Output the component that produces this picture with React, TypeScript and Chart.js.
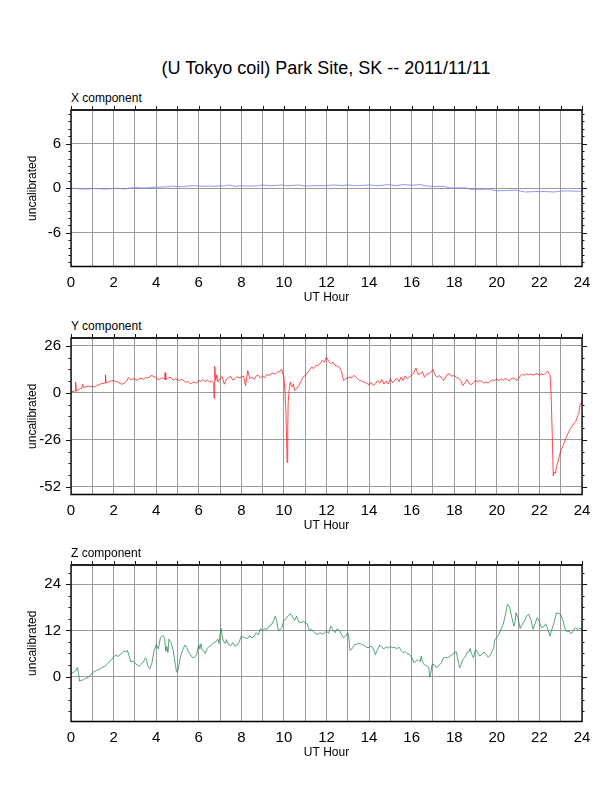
import { useEffect, useRef } from "react"
import { Chart, registerables } from "chart.js"

Chart.register(...registerables)

const FONT = "'Liberation Sans', Arial, Helvetica, sans-serif"

const TITLE = "(U Tokyo coil) Park Site, SK -- 2011/11/11"
const X_LABEL = "UT Hour"
const Y_LABEL = "uncalibrated"
const HOUR_TICKS = { min: 0, max: 24, step: 1, labelEvery: 2 }

// [UT hour, value]
const X_SERIES: [number, number][] = [
  [0, 0.0], [0.3, -0.05], [0.5, -0.1], [0.8, -0.1], [1, -0.05], [1.3, -0.05], [1.5, -0.12],
  [1.8, -0.08], [2, 0.0], [2.2, 0.0], [2.5, -0.1], [2.7, 0.0], [3, 0.1], [3.3, 0.05],
  [3.5, 0.05], [3.8, 0.1], [4, 0.15], [4.3, 0.15], [4.5, 0.2], [4.8, 0.3], [5, 0.2],
  [5.3, 0.22], [5.5, 0.3], [5.8, 0.35], [6, 0.3], [6.3, 0.25], [6.5, 0.3], [6.8, 0.25],
  [7, 0.35], [7.2, 0.3], [7.4, 0.45], [7.7, 0.25], [8, 0.35], [8.3, 0.3], [8.5, 0.3],
  [8.8, 0.35], [9, 0.45], [9.3, 0.35], [9.5, 0.35], [9.9, 0.45], [10.1, 0.35], [10.3, 0.35],
  [10.7, 0.45], [11, 0.3], [11.3, 0.35], [11.5, 0.35], [12, 0.35], [12.3, 0.45], [12.7, 0.35],
  [13, 0.45], [13.3, 0.35], [13.5, 0.35], [14, 0.45], [14.3, 0.35], [14.5, 0.35], [14.9, 0.5],
  [15.3, 0.35], [15.6, 0.5], [16, 0.4], [16.4, 0.5], [16.7, 0.3], [17, 0.25], [17.5, 0.25],
  [17.8, 0.05], [18.2, 0.05], [18.5, 0.05], [18.8, -0.15], [19.2, -0.15], [19.6, -0.1],
  [20, -0.35], [20.5, -0.3], [20.8, -0.25], [21, -0.3], [21.3, -0.5], [21.8, -0.45],
  [22.3, -0.45], [22.7, -0.5], [23, -0.4], [23.3, -0.35], [23.7, -0.4], [24, -0.4],
]

const Y_SERIES: [number, number][] = [
  [0, 0.5], [0.1, 0.8], [0.2, 1.0], [0.22, 6.0], [0.25, 1.2], [0.3, 1.4], [0.4, 2.0],
  [0.5, 2.6], [0.55, 4.8], [0.6, 3.0], [0.7, 3.4], [0.8, 3.8], [0.9, 3.5], [1.0, 3.7],
  [1.1, 3.2], [1.2, 4.0], [1.3, 4.4], [1.4, 5.0], [1.5, 5.2], [1.6, 5.4], [1.62, 10.0],
  [1.65, 5.6], [1.7, 5.8], [1.8, 6.3], [1.9, 6.6], [2.0, 6.7], [2.1, 6.4], [2.2, 6.0],
  [2.3, 5.2], [2.4, 4.8], [2.5, 5.4], [2.6, 6.3], [2.7, 8.5], [2.8, 7.2], [2.9, 7.8],
  [3.0, 7.4], [3.1, 7.0], [3.2, 7.8], [3.3, 8.0], [3.4, 7.6], [3.5, 8.5], [3.6, 8.2],
  [3.7, 9.0], [3.8, 9.7], [3.9, 8.8], [4.0, 8.7], [4.1, 7.2], [4.2, 7.8], [4.3, 8.4],
  [4.4, 7.6], [4.42, 11.2], [4.45, 7.4], [4.5, 7.4], [4.6, 8.6], [4.7, 8.5], [4.8, 7.0],
  [4.9, 7.8], [5.0, 7.4], [5.1, 6.8], [5.2, 7.6], [5.3, 6.7], [5.4, 5.8], [5.5, 6.4],
  [5.6, 5.0], [5.7, 5.6], [5.8, 6.0], [5.9, 5.4], [6.0, 6.9], [6.1, 6.5], [6.2, 7.4],
  [6.3, 6.2], [6.4, 7.0], [6.5, 6.0], [6.6, 6.6], [6.7, 5.6], [6.72, -3.0], [6.74, 8.0],
  [6.76, 14.8], [6.8, 7.0], [6.85, 10.0], [6.9, 6.0], [7.0, 7.8], [7.1, 9.0], [7.2, 4.8],
  [7.3, 7.6], [7.4, 8.5], [7.5, 9.2], [7.6, 7.2], [7.7, 7.8], [7.8, 9.0], [7.9, 8.2],
  [8.0, 8.7], [8.1, 9.4], [8.2, 4.1], [8.3, 12.3], [8.4, 8.0], [8.5, 8.7], [8.6, 7.5],
  [8.7, 9.4], [8.8, 9.7], [8.9, 8.2], [9.0, 9.3], [9.1, 8.4], [9.2, 10.2], [9.3, 9.7],
  [9.4, 10.6], [9.5, 11.1], [9.6, 10.4], [9.7, 11.5], [9.8, 11.9], [9.9, 13.0], [9.95, 10.5],
  [10.0, 8.7], [10.05, 0.4], [10.1, -12.6], [10.15, -38.6], [10.18, -20.0], [10.2, -5.2],
  [10.25, 2.0], [10.3, 6.0], [10.35, 4.0], [10.4, 3.2], [10.45, 5.0], [10.5, 1.3],
  [10.6, 2.5], [10.7, 4.0], [10.8, 6.5], [10.9, 8.7], [11.0, 9.7], [11.1, 11.0], [11.2, 12.4],
  [11.3, 14.3], [11.4, 13.5], [11.5, 15.2], [11.6, 15.2], [11.7, 16.2], [11.8, 18.0],
  [11.9, 17.0], [12.0, 19.9], [12.1, 17.5], [12.2, 16.2], [12.3, 17.0], [12.4, 15.2],
  [12.5, 14.8], [12.6, 14.3], [12.7, 12.0], [12.8, 6.9], [12.9, 7.8], [13.0, 8.2],
  [13.1, 8.8], [13.2, 8.4], [13.3, 9.7], [13.4, 8.6], [13.5, 7.4], [13.6, 6.8], [13.7, 6.2],
  [13.8, 6.0], [13.9, 5.2], [14.0, 4.5], [14.1, 5.8], [14.2, 4.2], [14.3, 5.0], [14.4, 6.8],
  [14.5, 5.4], [14.6, 7.4], [14.7, 4.8], [14.8, 6.6], [14.9, 5.0], [15.0, 7.8], [15.1, 5.6],
  [15.2, 6.9], [15.3, 8.2], [15.4, 6.2], [15.5, 8.7], [15.6, 6.8], [15.7, 9.4], [15.8, 7.8],
  [15.9, 9.0], [16.0, 9.7], [16.1, 11.0], [16.2, 13.7], [16.3, 10.2], [16.4, 10.6],
  [16.5, 11.8], [16.6, 8.7], [16.7, 10.4], [16.8, 10.6], [16.9, 11.4], [17.0, 13.0],
  [17.1, 9.8], [17.2, 8.7], [17.3, 9.6], [17.4, 8.2], [17.5, 6.9], [17.6, 8.8], [17.7, 10.6],
  [17.8, 10.2], [17.9, 9.2], [18.0, 9.7], [18.1, 8.6], [18.2, 8.2], [18.3, 7.0], [18.4, 4.1],
  [18.5, 5.6], [18.6, 7.4], [18.7, 5.2], [18.8, 4.5], [18.9, 5.8], [19.0, 6.9], [19.1, 6.2],
  [19.2, 6.8], [19.3, 6.3], [19.4, 5.4], [19.5, 6.0], [19.6, 5.6], [19.7, 6.4], [19.8, 7.2],
  [19.9, 6.9], [20.0, 7.6], [20.1, 6.8], [20.2, 7.8], [20.3, 7.0], [20.4, 8.0], [20.5, 7.4],
  [20.6, 6.6], [20.7, 8.2], [20.8, 8.2], [20.9, 7.0], [21.0, 7.4], [21.1, 9.4], [21.2, 10.2],
  [21.3, 9.8], [21.4, 10.6], [21.5, 10.0], [21.6, 10.4], [21.7, 9.8], [21.8, 10.4],
  [21.9, 10.8], [22.0, 9.7], [22.1, 10.6], [22.2, 10.0], [22.3, 11.2], [22.4, 11.9],
  [22.45, 10.6], [22.5, 10.0], [22.55, -1.5], [22.6, -21.9], [22.65, -46.0], [22.7, -43.8],
  [22.75, -44.5], [22.8, -41.4], [22.9, -36.8], [23.0, -32.1], [23.1, -29.5], [23.2, -26.6],
  [23.3, -23.5], [23.4, -21.0], [23.5, -19.0], [23.6, -17.3], [23.7, -16.0], [23.8, -12.6],
  [23.85, -11.5], [23.9, -7.0], [24.0, -4.8],
]

const Z_SERIES: [number, number][] = [
  [0, 0.7], [0.1, 1.0], [0.2, 1.4], [0.3, 2.3], [0.35, 1.0], [0.4, -1.2], [0.5, -1.0],
  [0.6, -0.8], [0.7, -0.4], [0.8, -0.3], [0.9, 0.3], [1.0, 1.0], [1.1, 1.3], [1.2, 1.6],
  [1.3, 1.8], [1.4, 2.1], [1.5, 2.5], [1.6, 2.7], [1.7, 3.2], [1.8, 3.8], [1.9, 4.4],
  [2.0, 5.0], [2.1, 5.6], [2.2, 5.2], [2.3, 5.6], [2.4, 6.2], [2.5, 6.6], [2.6, 6.4],
  [2.65, 6.8], [2.75, 5.0], [2.8, 3.8], [2.9, 4.0], [3.0, 3.6], [3.1, 3.0], [3.2, 2.7],
  [3.3, 3.2], [3.4, 3.8], [3.5, 4.9], [3.55, 4.4], [3.6, 2.8], [3.7, 2.0], [3.8, 3.5],
  [3.9, 6.6], [4.0, 8.3], [4.1, 7.2], [4.2, 10.1], [4.3, 10.6], [4.35, 10.5], [4.4, 9.8],
  [4.45, 6.6], [4.5, 7.8], [4.55, 6.2], [4.6, 9.7], [4.7, 8.8], [4.75, 7.9], [4.8, 6.8],
  [4.9, 3.1], [4.95, 1.5], [5.0, 1.0], [5.05, 2.5], [5.15, 5.3], [5.25, 7.0], [5.35, 8.2],
  [5.45, 7.4], [5.5, 6.6], [5.6, 5.8], [5.7, 4.9], [5.8, 5.0], [5.9, 5.7], [6.0, 8.3],
  [6.05, 7.2], [6.1, 8.5], [6.15, 7.0], [6.25, 6.5], [6.3, 6.0], [6.4, 7.3], [6.5, 7.9],
  [6.6, 8.2], [6.7, 8.8], [6.8, 9.0], [6.9, 9.7], [6.95, 8.6], [7.0, 10.8], [7.05, 12.5],
  [7.1, 10.6], [7.15, 9.2], [7.25, 8.6], [7.3, 9.6], [7.4, 8.3], [7.5, 8.0], [7.6, 8.8],
  [7.7, 7.9], [7.8, 8.2], [7.9, 9.0], [8.0, 10.5], [8.1, 10.2], [8.2, 10.0], [8.3, 9.9],
  [8.4, 10.6], [8.5, 10.0], [8.6, 10.5], [8.7, 11.4], [8.8, 10.8], [8.9, 12.5], [9.0, 11.8],
  [9.1, 12.5], [9.2, 12.2], [9.3, 13.1], [9.4, 13.4], [9.5, 14.3], [9.6, 15.7], [9.65, 14.8],
  [9.7, 13.0], [9.75, 12.0], [9.8, 12.1], [9.9, 12.7], [10.0, 14.6], [10.1, 15.0],
  [10.2, 15.8], [10.3, 16.3], [10.4, 15.5], [10.5, 14.6], [10.6, 15.7], [10.7, 14.2],
  [10.8, 14.0], [10.9, 14.3], [11.0, 14.0], [11.1, 13.6], [11.2, 12.0], [11.3, 12.3],
  [11.4, 11.6], [11.5, 11.1], [11.6, 11.0], [11.7, 11.4], [11.8, 11.0], [11.9, 11.3],
  [12.0, 11.8], [12.1, 11.2], [12.2, 13.1], [12.3, 12.2], [12.4, 11.4], [12.5, 12.4],
  [12.6, 12.0], [12.7, 11.0], [12.8, 10.1], [12.9, 10.6], [13.0, 11.4], [13.05, 10.2],
  [13.1, 6.8], [13.2, 7.2], [13.3, 8.2], [13.4, 8.4], [13.5, 8.6], [13.6, 8.5], [13.7, 8.2],
  [13.8, 8.0], [13.9, 7.5], [14.0, 7.6], [14.1, 7.9], [14.2, 7.2], [14.3, 5.7], [14.4, 7.0],
  [14.5, 8.2], [14.6, 7.6], [14.7, 7.2], [14.8, 7.7], [14.9, 7.4], [15.0, 7.8], [15.1, 7.5],
  [15.2, 7.6], [15.3, 7.2], [15.4, 7.7], [15.5, 6.8], [15.6, 6.2], [15.7, 6.5], [15.8, 5.9],
  [15.9, 5.7], [16.0, 5.0], [16.1, 3.6], [16.2, 4.0], [16.3, 4.4], [16.4, 3.8], [16.45, 5.3],
  [16.5, 4.0], [16.6, 3.0], [16.7, 2.8], [16.8, 2.4], [16.85, -0.2], [16.9, 0.8],
  [16.95, 3.0], [17.0, 3.3], [17.1, 2.6], [17.2, 2.4], [17.3, 3.0], [17.4, 3.6], [17.5, 4.9],
  [17.6, 5.0], [17.7, 4.8], [17.8, 5.3], [17.9, 5.6], [18.0, 6.2], [18.1, 6.4], [18.15, 5.0],
  [18.25, 2.3], [18.3, 2.8], [18.4, 4.4], [18.5, 5.0], [18.6, 6.2], [18.7, 6.5],
  [18.75, 7.3], [18.8, 6.0], [18.9, 4.9], [19.0, 7.0], [19.1, 6.2], [19.2, 5.3], [19.3, 5.8],
  [19.4, 6.4], [19.5, 5.7], [19.6, 5.0], [19.7, 5.6], [19.8, 6.8], [19.85, 7.2], [19.9, 9.4],
  [20.0, 10.2], [20.1, 11.0], [20.2, 12.4], [20.3, 13.6], [20.4, 16.0], [20.5, 18.8],
  [20.6, 18.1], [20.7, 15.4], [20.8, 13.1], [20.85, 14.0], [20.9, 16.6], [21.0, 15.0],
  [21.1, 12.5], [21.2, 13.6], [21.3, 14.4], [21.4, 15.8], [21.5, 16.2], [21.6, 14.8],
  [21.7, 12.3], [21.8, 13.8], [21.9, 15.3], [22.0, 14.2], [22.1, 12.7], [22.2, 13.0],
  [22.3, 13.7], [22.4, 12.2], [22.5, 10.5], [22.55, 11.8], [22.6, 12.5], [22.7, 14.2],
  [22.8, 16.6], [22.9, 16.4], [23.0, 16.2], [23.1, 14.6], [23.2, 12.5], [23.3, 11.6],
  [23.4, 11.8], [23.5, 11.1], [23.6, 12.0], [23.7, 12.7], [23.8, 12.2], [23.9, 12.6],
  [24.0, 12.3],
]

// axis ranges: [min, max, minor step, major step]
const X_RANGE: [number, number, number, number] = [-10.55, 10.55, 1, 6]
const Y_RANGE: [number, number, number, number] = [-56.3, 30.4, 6.5, 26]
const Z_RANGE: [number, number, number, number] = [-11.7, 29, 3, 12]

const PLOT_LEFT = 71
const PLOT_RIGHT = 582
const PLOT_H = 156.5
const PAD_TOP = 25
const CANVAS_H = 230

const isMult = (v: number, step: number) => Math.abs(v / step - Math.round(v / step)) < 1e-6

const framePlugin = {
  id: "gmtFrame",
  afterDraw(chart: any) {
    const { ctx, chartArea: a, scales } = chart
    const xs = scales.x
    const ys = scales.y
    const major = chart.options.plugins.gmtFrame.major
    ctx.save()
    ctx.strokeStyle = "#111"
    ctx.lineWidth = 1
    ctx.beginPath()
    xs.ticks.forEach((t: any) => {
      const px = Math.round(xs.getPixelForValue(t.value)) + 0.5
      ctx.moveTo(px, a.top)
      ctx.lineTo(px, a.top - 4)
    })
    ys.ticks.forEach((t: any) => {
      if (t.value <= ys.min || t.value >= ys.max) return
      const py = Math.round(ys.getPixelForValue(t.value)) + 0.5
      const len = isMult(t.value, major) ? 5 : 2.5
      ctx.moveTo(a.left, py)
      ctx.lineTo(a.left - len, py)
      ctx.moveTo(a.right, py)
      ctx.lineTo(a.right + len, py)
    })
    ctx.stroke()
    // frame, heavier on top
    ctx.strokeStyle = "#000"
    ctx.lineWidth = 1.3
    ctx.beginPath()
    ctx.moveTo(a.left, a.top)
    ctx.lineTo(a.left, a.bottom)
    ctx.lineTo(a.right, a.bottom)
    ctx.lineTo(a.right, a.top)
    ctx.stroke()
    ctx.strokeStyle = "#222"
    ctx.lineWidth = 2
    ctx.beginPath()
    ctx.moveTo(a.left - 0.6, a.top)
    ctx.lineTo(a.right + 0.6, a.top)
    ctx.stroke()
    ctx.restore()
  },
}

type PanelProps = {
  label: string
  series: [number, number][]
  range: [number, number, number, number]
  color: string
  plotTop: number
}

function Panel({ label, series, range, color, plotTop }: PanelProps) {
  const chartRef = useRef<HTMLCanvasElement>(null)
  const chartInstance = useRef<Chart | null>(null)

  useEffect(() => {
    if (!chartRef.current) return
    if (chartInstance.current) chartInstance.current.destroy()
    const ctx = chartRef.current.getContext("2d")
    if (!ctx) return

    const [yMin, yMax, minor, major] = range

    chartInstance.current = new Chart(ctx, {
      type: "line",
      data: {
        datasets: [
          {
            data: series.map(([h, v]) => ({ x: h, y: v })),
            borderColor: color,
            borderWidth: 0.8,
            pointRadius: 0,
            tension: 0,
            fill: false,
          },
        ],
      },
      options: {
        animation: false,
        responsive: true,
        maintainAspectRatio: false,
        layout: { padding: { left: 0, right: 612 - PLOT_RIGHT, top: PAD_TOP, bottom: 0 } },
        plugins: {
          legend: { display: false },
          tooltip: { enabled: false },
          gmtFrame: { major },
        } as any,
        scales: {
          x: {
            type: "linear",
            min: HOUR_TICKS.min,
            max: HOUR_TICKS.max,
            afterFit: (s: any) => {
              s.height = CANVAS_H - PAD_TOP - PLOT_H
            },
            border: { display: false },
            grid: { color: "#9a9a9a", lineWidth: 1, drawTicks: false },
            ticks: {
              stepSize: HOUR_TICKS.step,
              autoSkip: false,
              maxRotation: 0,
              padding: 7,
              color: "#000",
              font: { family: FONT, size: 15 },
              callback: (v: any) => (isMult(Number(v), HOUR_TICKS.labelEvery) ? String(v) : ""),
            },
            title: {
              display: true,
              text: X_LABEL,
              color: "#000",
              font: { family: FONT, size: 12 },
              padding: { top: 0, bottom: 10.5 },
            },
          },
          y: {
            type: "linear",
            min: yMin,
            max: yMax,
            bounds: "ticks",
            afterFit: (s: any) => {
              s.width = PLOT_LEFT
            },
            border: { display: false },
            grid: {
              drawTicks: false,
              lineWidth: 1,
              color: (c: any) => (c.tick && isMult(c.tick.value, major) ? "#9a9a9a" : "rgba(0,0,0,0)"),
            },
            ticks: {
              stepSize: minor,
              includeBounds: false,
              autoSkip: false,
              padding: 10,
              color: "#000",
              font: { family: FONT, size: 15 },
              callback: (v: any) => (isMult(Number(v), major) ? String(Math.round(Number(v))) : ""),
            },
            title: {
              display: true,
              text: Y_LABEL,
              color: "#000",
              font: { family: FONT, size: 12 },
              padding: { top: 25, bottom: 0 },
            },
          },
        },
      },
      plugins: [framePlugin],
    })

    return () => {
      if (chartInstance.current) {
        chartInstance.current.destroy()
        chartInstance.current = null
      }
    }
  }, [series, range, color])

  return (
    <>
      <div
        style={{
          position: "absolute",
          left: PLOT_LEFT,
          top: plotTop - 19,
          fontFamily: FONT,
          fontSize: 12,
          lineHeight: "14px",
          color: "#000",
          whiteSpace: "nowrap",
        }}
      >
        {label}
      </div>
      <div
        style={{
          position: "absolute",
          left: 0,
          top: plotTop - PAD_TOP,
          width: 612,
          height: CANVAS_H,
        }}
      >
        <canvas ref={chartRef} />
      </div>
    </>
  )
}

export default function App() {
  return (
    <div
      style={{
        position: "absolute",
        left: 0,
        top: 0,
        width: 612,
        height: 792,
        background: "#fff",
        overflow: "hidden",
      }}
    >
      <div
        style={{
          position: "absolute",
          left: 326,
          top: 57,
          transform: "translateX(-50%)",
          fontFamily: FONT,
          fontSize: 18,
          lineHeight: "22px",
          color: "#000",
          whiteSpace: "nowrap",
        }}
      >
        {TITLE}
      </div>
      <Panel label="X component" series={X_SERIES} range={X_RANGE} color="#7b7bff" plotTop={110} />
      <Panel label="Y component" series={Y_SERIES} range={Y_RANGE} color="#ff2020" plotTop={337.5} />
      <Panel label="Z component" series={Z_SERIES} range={Z_RANGE} color="#2f8a55" plotTop={564.5} />
    </div>
  )
}
